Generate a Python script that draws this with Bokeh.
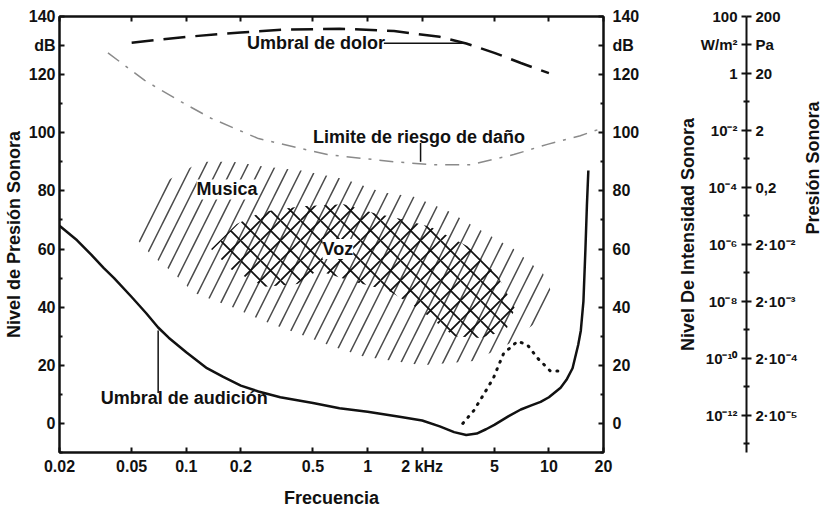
import math
from bokeh.plotting import figure
from bokeh.models import FixedTicker, LinearAxis, LogAxis, Range1d, Label
from bokeh.layouts import row
from bokeh.embed import file_html
from bokeh.resources import INLINE

FONT = "Liberation Sans"
INK = "#111111"

# ---------------- data ----------------
freq_ticks = [0.02, 0.05, 0.1, 0.2, 0.5, 1, 2, 5, 10, 20]
freq_labels = ["0.02", "0.05", "0.1", "0.2", "0.5", "1", "2 kHz", "5", "10", "20"]

db_ticks = [0, 20, 40, 60, 80, 100, 120, 130, 140]
db_labels = ["0", "20", "40", "60", "80", "100", "120", "dB", "140"]
db_minor = [-10, 10, 30, 50, 70, 90, 110]

intensity_labels = ["10⁻¹²", "10⁻¹⁰", "10⁻⁸", "10⁻⁶", "10⁻⁴", "10⁻²", "1", "W/m²", "100"]
pressure_labels = ["2·10⁻⁵", "2·10⁻⁴", "2·10⁻³", "2·10⁻²", "0,2", "2", "20", "Pa", "200"]

# threshold of hearing
hear_f = [0.02, 0.025, 0.03, 0.035, 0.04, 0.05, 0.06, 0.07, 0.08, 0.1, 0.13, 0.16, 0.2,
          0.25, 0.33, 0.5, 0.7, 1.0, 1.5, 2.0, 2.5, 3.0, 3.5, 4.0, 4.5, 5.0, 6.0, 7.0,
          8.0, 9.0, 10.0, 11.6, 12.5, 13.5, 14.5, 15.0, 15.5, 15.9, 16.2, 16.5]
hear_db = [68, 63, 58, 53.5, 50, 43.5, 38, 33, 29.5, 24.5, 19, 16, 13, 11, 9, 7, 5.2,
           4, 2.3, 1, -1, -3, -4, -3.5, -2, -0.5, 2.5, 4.8, 6.2, 7.4, 9, 12.3, 15, 19,
           27, 32, 42, 60, 75, 87]

# threshold of pain
pain_f = [0.05, 0.1, 0.2, 0.35, 0.7, 1.4, 2.5, 3.5, 5.0, 7.0, 10.0]
pain_db = [131, 133, 134.5, 135.5, 135.8, 135, 133, 130.7, 127.5, 124, 120.5]

# limit of damage risk
risk_f = [0.037, 0.059, 0.094, 0.137, 0.25, 0.6, 1.4, 2.3, 3.7, 6.4, 9.8, 14.9, 18.5]
risk_db = [127.5, 118, 110.6, 105, 98, 92.5, 90, 89, 89, 92.5, 96, 99, 101]

# dotted curve
dot_f = [3.35, 3.85, 4.37, 4.95, 5.28, 5.62, 6.72, 7.62, 8.65, 10.2, 11.6]
dot_db = [0, 4.4, 10, 15.7, 20, 24, 28.3, 27, 22.5, 18, 18]

# music area
music_f = [0.052, 0.064, 0.0757, 0.12, 0.18, 0.26, 0.43, 0.75, 1.2, 1.8, 2.8, 3.8, 6.4,
           9.3, 10.2, 9.0, 6.1, 3.85, 2.0, 0.95, 0.63, 0.41, 0.26, 0.18, 0.11, 0.086,
           0.064, 0.053]
music_db = [67, 75, 83, 90, 90, 88.5, 87, 84, 79.5, 78, 73, 68, 60, 51.5, 46, 36, 27.6,
            21.5, 20, 23, 26.6, 31, 35.5, 40, 45, 51.5, 58, 63.5]

# speech area
voice_f = [0.137, 0.19, 0.26, 0.43, 0.74, 1.08, 1.53, 2.23, 3.56, 5.2, 6.5, 5.8, 4.2,
           3.0, 1.96, 1.3, 0.81, 0.53, 0.41, 0.27, 0.177]
voice_db = [60, 68.6, 72.7, 74.7, 75.4, 72.4, 70.3, 67.6, 61, 51, 39.6, 32, 29.4, 30,
            39, 45.7, 49, 52.6, 48, 47, 53]

# annotations
label_text = ["Umbral de dolor", "Limite de riesgo de daño", "Musica", "Voz", "Umbral de audición"]
label_f = [0.52, 1.92, 0.168, 0.686, 0.0975]
label_db = [130.8, 98.6, 80.5, 60, 8.9]
label_bg = [None, None, "white", "white", None]

lead_x0 = [0.07, 1.96, 1.23]
lead_y0 = [10.5, 96.5, 130.8]
lead_x1 = [0.07, 1.96, 3.48]
lead_y1 = [32, 90, 130.8]


def style(ax, ticks, labels, minor, tin, tout, mtin, mtout, size="16px"):
    ax.ticker = FixedTicker(ticks=ticks, minor_ticks=minor)
    ax.major_label_overrides = {t: l for t, l in zip(ticks, labels)}
    ax.major_tick_in = tin
    ax.major_tick_out = tout
    ax.minor_tick_in = mtin
    ax.minor_tick_out = mtout
    ax.axis_line_color = INK
    ax.axis_line_width = 2
    ax.major_tick_line_color = INK
    ax.major_tick_line_width = 2
    ax.minor_tick_line_color = INK
    ax.minor_tick_line_width = 2
    ax.major_label_text_font = FONT
    ax.major_label_text_font_size = size
    ax.major_label_text_font_style = "bold"
    ax.major_label_text_color = INK
    ax.axis_label_text_font = FONT
    ax.axis_label_text_font_size = "18px"
    ax.axis_label_text_font_style = "bold"
    ax.axis_label_text_color = INK


# ---------------- main chart ----------------
p = figure(width=645, height=510, x_axis_type="log",
           x_range=Range1d(0.02, 20), y_range=Range1d(-10, 140),
           output_backend="svg", toolbar_location=None,
           min_border_left=58, min_border_right=42, min_border_top=16, min_border_bottom=54,
           outline_line_color=INK, outline_line_width=2)
p.grid.visible = False

style(p.xaxis[0], freq_ticks, freq_labels, [], 5, 0, 0, 0)
p.xaxis[0].major_label_standoff = 5
p.xaxis[0].axis_label = "Frecuencia"
p.xaxis[0].axis_label_standoff = 10

style(p.yaxis[0], db_ticks, db_labels, db_minor, 5, 0, 3, 0)
p.yaxis[0].major_label_standoff = 4
p.yaxis[0].axis_label = "Nivel de Presión Sonora"
p.yaxis[0].axis_label_standoff = 2

ry = LinearAxis()
style(ry, db_ticks, db_labels, db_minor, 5, 0, 3, 0)
ry.major_label_standoff = 9
p.add_layout(ry, "right")

tx = LogAxis()
style(tx, freq_ticks, [""] * len(freq_ticks), [], 5, 0, 0, 0)
tx.major_label_text_font_size = "0px"
tx.major_label_standoff = 0
p.add_layout(tx, "above")

# hatched areas
p.patch(music_f, music_db, fill_alpha=0, line_alpha=0,
        hatch_pattern="/", hatch_scale=28, hatch_weight=1.5, hatch_color="#4a4a4a")
p.patch(voice_f, voice_db, fill_alpha=0, line_alpha=0,
        hatch_pattern="x", hatch_scale=20, hatch_weight=1.8, hatch_color=INK)

# curves
p.line(hear_f, hear_db, line_color=INK, line_width=2.5, line_join="round")
p.line(pain_f, pain_db, line_color=INK, line_width=2.5, line_dash="22 10")
p.line(risk_f, risk_db, line_color="#8a8a8a", line_width=1.5, line_dash="14 8 3 8")
p.line(dot_f, dot_db, line_color=INK, line_width=3, line_dash="1 7", line_cap="round")

p.segment(lead_x0, lead_y0, lead_x1, lead_y1, line_color=INK, line_width=1.5)

for t, f, d, bg in zip(label_text, label_f, label_db, label_bg):
    lab = Label(x=f, y=d, text=t, text_font=FONT, text_font_size="18px",
                text_font_style="bold", text_color=INK,
                text_align="center", text_baseline="middle")
    if bg:
        lab.background_fill_color = bg
    p.add_layout(lab)

# ---------------- intensity / pressure scale ----------------
q = figure(width=190, height=510, x_range=Range1d(0, 1), y_range=Range1d(-13, 140),
           output_backend="svg", toolbar_location=None,
           min_border_left=101, min_border_right=88, min_border_top=16, min_border_bottom=54,
           outline_line_color=None, x_axis_location=None, y_axis_location="left")
q.grid.visible = False

style(q.yaxis[0], db_ticks, intensity_labels, db_minor, 0, 5, 0, 3, size="15px")
q.yaxis[0].major_label_standoff = 4
q.yaxis[0].axis_label = "Nivel De Intensidad Sonora"
q.yaxis[0].axis_label_standoff = 0

qr = LinearAxis()
style(qr, db_ticks, pressure_labels, db_minor, 0, 5, 0, 3, size="15px")
qr.axis_line_color = None
qr.major_label_standoff = 4
qr.axis_label = "Presión Sonora"
qr.axis_label_standoff = 12
qr.axis_label_orientation = math.pi / 2
q.add_layout(qr, "right")

layout = row(p, q)
open("out.html", "w").write(file_html(layout, INLINE))
